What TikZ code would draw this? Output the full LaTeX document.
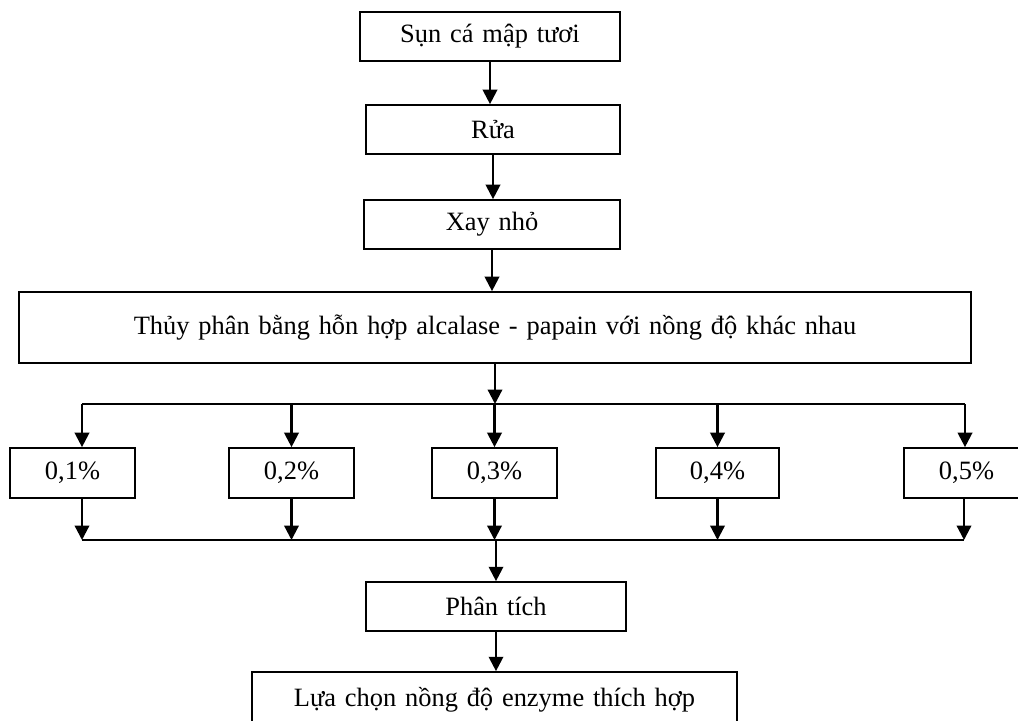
\documentclass[tikz,border=0pt]{standalone}
\usepackage{fontspec}
\setmainfont{Liberation Serif}
\usepackage{tikz}
\usetikzlibrary{arrows.meta, positioning, calc}

\begin{document}
\begin{tikzpicture}[x=0.025cm, y=-0.025cm,
        block/.style={rectangle, draw=black, line width=1.2pt, fill=white, text width=6.5cm, text centered, minimum height=1.225cm, inner sep=0pt, font=\fontsize{18.8}{22}\selectfont},
        wideblock/.style={block, text width=23.8cm, minimum height=1.775cm},
        pctblock/.style={block, text width=3.125cm, minimum height=1.25cm},
        line/.style={draw=black, line width=1.6pt, -{Triangle[width=3.6mm, length=3.6mm]}},
        bar/.style={draw=black, line width=1.2pt}]

        \useasboundingbox (0,0) rectangle (1018,721);

        \node [block] (sun) at (490,36.5) {Sụn cá mập tươi};
        \node [block, text width=6.35cm] (rua) at (493,129.5) {Rửa};
        \node [block, text width=6.4cm] (xay) at (492,224.5) {Xay nhỏ};
        \node [wideblock] (thuyphan) at (495,327.5) {Thủy phân bằng hỗn hợp alcalase - papain với nồng độ khác nhau};

        \node [pctblock] (c1) at (72.5,473) {0,1\%};
        \node [pctblock] (c2) at (291.5,473) {0,2\%};
        \node [pctblock] (c3) at (494.5,473) {0,3\%};
        \node [pctblock, text width=3.075cm] (c4) at (717.5,473) {0,4\%};
        \node [pctblock] (c5) at (966.5,473) {0,5\%};

        \node [block] (phantich) at (496,606.5) {Phân tích};
        \node [block, text width=12.125cm, minimum height=1.4cm] (luachon) at (494.5,700) {Lựa chọn nồng độ enzyme thích hợp};

        \coordinate (tl) at (82,404);
        \coordinate (tr) at (965,404);
        \coordinate (bl) at (82,540);
        \coordinate (br) at (964,540);

        \path [line] (sun.south) -- (sun.south |- rua.north);
        \path [line] (rua.south) -- (rua.south |- xay.north);
        \path [line] (xay.south) -- (xay.south |- thuyphan.north);
        \path [line] (thuyphan.south) -- (thuyphan.south |- tl);
        \draw [bar] (tl) -- (tr);
        \path [line] (tl) -- (tl |- c1.north);
        \path [line] (c2.north |- tl) -- (c2.north);
        \path [line] (c3.north |- tl) -- (c3.north);
        \path [line] (c4.north |- tl) -- (c4.north);
        \path [line] (tr) -- (tr |- c5.north);
        \path [line] (c1.south -| bl) -- (bl);
        \path [line] (c2.south) -- (c2.south |- bl);
        \path [line] (c3.south) -- (c3.south |- bl);
        \path [line] (c4.south) -- (c4.south |- bl);
        \path [line] (c5.south -| br) -- (br);
        \draw [bar] (bl) -- (br);
        \path [line] (phantich.north |- bl) -- (phantich.north);
        \path [line] (phantich.south) -- (phantich.south |- luachon.north);
    \end{tikzpicture}
\end{document}
